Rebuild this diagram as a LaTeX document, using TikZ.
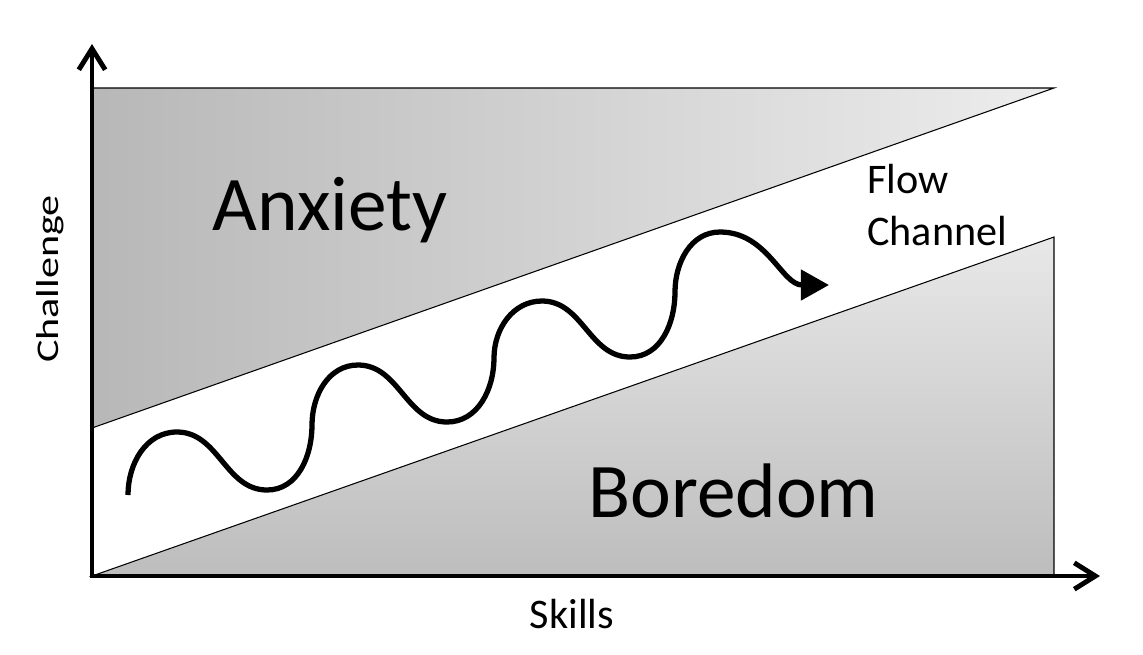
\documentclass[tikz,border=0pt]{standalone}
\usepackage{fontspec}
\setmainfont{Carlito}
\usetikzlibrary{arrows.meta}

\tikzset{
	flowpicture/.style = {
		x = 0.02cm,
		y = -0.02cm,
		axis/.style = {
			draw,
			line width = 2.8pt,
			{Straight Barb[length = 12pt, width = 15pt]}-{Straight Barb[length = 12pt, width = 15pt]},
		}
	},
	zone/.style = {
		draw = black,
		line width = 0.6pt
	},
	anxiety-zone/.style = {
		left color = black!28,
		right color = black!7
	},
	boredom-zone/.style = {
		top color = black!9,
		bottom color = black!26
	},
	zonetext/.style = {
		inner sep = 0pt,
		font = \fontsize{44}{53}\selectfont
	},
	axistext/.style = {
		inner sep = 0pt,
		font = \fontsize{24}{29}\selectfont
	},
	wave/.style = {
		draw,
		line width = 3pt,
		-{Triangle[length = 16pt, width = 17pt]}
	}
}

\begin{document}
\begin{tikzpicture}[flowpicture]
	\useasboundingbox (0,0) rectangle (1143,654);

	\coordinate (O) at (92,576);
	\coordinate (Y) at (92,44);
	\coordinate (X) at (1100,576);

	\coordinate (A1) at (92,88);
	\coordinate (A2) at (1054,88);
	\coordinate (A3) at (92,428);
	\coordinate (B1) at (1054,237);
	\coordinate (B2) at (1054,576);

	% the two zones
	\path[zone, anxiety-zone] (A3) -- (A1) -- (A2) -- cycle;
	\path[zone, boredom-zone] (O) -- (B1) -- (B2) -- cycle;

	\path[axis] (Y) -- (O) -- (X);

	% the flow path
	\path[wave] (128,495) to[out = 90, in = 180] (177,432)
		to[out = 0, in = 180] (267,490)
		to[out = 0, in = -90] (312,425) to[out = 90, in = 180] (358,365)
		to[out = 0, in = 180] (447,422)
		to[out = 0, in = -90] (494,358) to[out = 90, in = 180] (542,301)
		to[out = 0, in = 180] (630,357)
		to[out = 0, in = -90] (675,292) to[out = 90, in = 180] (720,232)
		to[out = 0, in = 180] (829,285);

	\node[zonetext, anchor = base west] (anxiety) at (212,230) {Anxiety};
	\node[zonetext, anchor = base west] (boredom) at (588,517) {Boredom};

	\node[axistext, anchor = base west] (flow) at (867,193) {Flow};
	\node[axistext, anchor = base west] (channel) at ([yshift = -29.6pt] flow.base west) {Channel};

	\node[axistext, anchor = base] (skills) at (572,628) {Skills};
	\node[axistext, anchor = base, rotate = 90] (challenge) at (58,279) {\scalebox{1}[0.75]{Challenge}};
\end{tikzpicture}
\end{document}
